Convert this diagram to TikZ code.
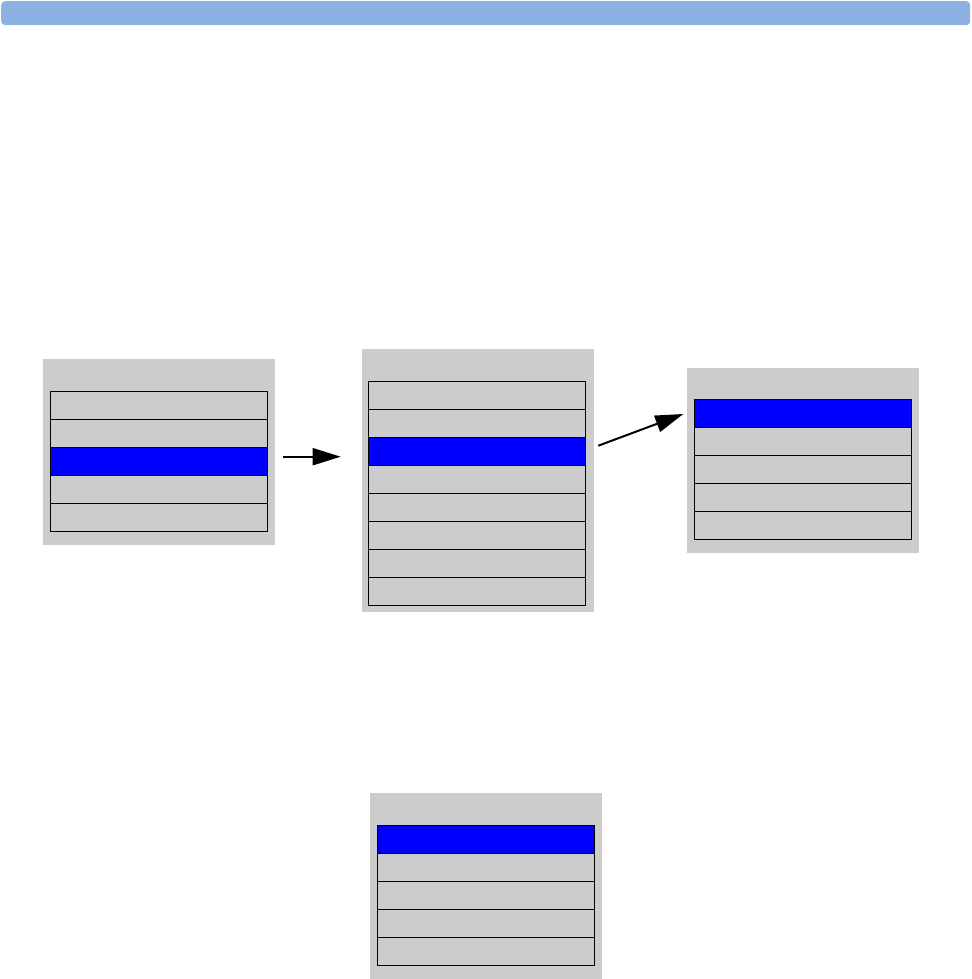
\documentclass[tikz,border=0pt]{standalone}
\usetikzlibrary{arrows.meta}
\definecolor{barblue}{RGB}{140,176,226}
\definecolor{menugrey}{RGB}{204,204,204}
\definecolor{selblue}{RGB}{0,0,255}
\begin{document}
\begin{tikzpicture}[x=1pt,y=-1pt,
  panel/.style={fill=menugrey, draw=none, inner sep=0pt, anchor=north west},
  item/.style={fill=menugrey, draw=black, line width=1.1pt, inner sep=0pt, anchor=north west, minimum height=28pt},
  sel/.style={item, fill=selblue},
  link/.style={-{Triangle[length=28pt,width=17pt]}, line width=2pt}]
\useasboundingbox (0,0) rectangle (971,979);
% title bar
\node[fill=barblue, rounded corners=4pt, minimum width=969pt, minimum height=24pt, anchor=north west, inner sep=0pt] (bar) at (1,1) {};
% menu 1
\node[panel, minimum width=232pt, minimum height=186pt] (m1) at (43,359) {};
\foreach \i/\s in {1/item,2/item,3/sel,4/item,5/item}
  \node[\s, minimum width=217.5pt] (m1r\i) at (49.5,{390.5+28*(\i-1)}) {};
% menu 2
\node[panel, minimum width=232pt, minimum height=263pt] (m2) at (362,349) {};
\foreach \i/\s in {1/item,2/item,3/sel,4/item,5/item,6/item,7/item,8/item}
  \node[\s, minimum width=217pt] (m2r\i) at (367.5,{380.5+28*(\i-1)}) {};
% menu 3
\node[panel, minimum width=232pt, minimum height=185.5pt] (m3) at (687,367.3) {};
\foreach \i/\s in {1/sel,2/item,3/item,4/item,5/item}
  \node[\s, minimum width=217pt] (m3r\i) at (693.5,{398.5+28*(\i-1)}) {};
% menu 4
\node[panel, minimum width=232pt, minimum height=187pt] (m4) at (370,792.3) {};
\foreach \i/\s in {1/sel,2/item,3/item,4/item,5/item}
  \node[\s, minimum width=217pt] (m4r\i) at (376.5,{824.5+28*(\i-1)}) {};
% arrows
\coordinate (a1s) at (283.3,456.7);
\coordinate (a1e) at (340.7,456.7);
\draw[link] (a1s) -- (a1e);
\coordinate (a2s) at (598.3,445.7);
\coordinate (a2e) at (683.3,414);
\draw[link] (a2s) -- (a2e);
\end{tikzpicture}
\end{document}
